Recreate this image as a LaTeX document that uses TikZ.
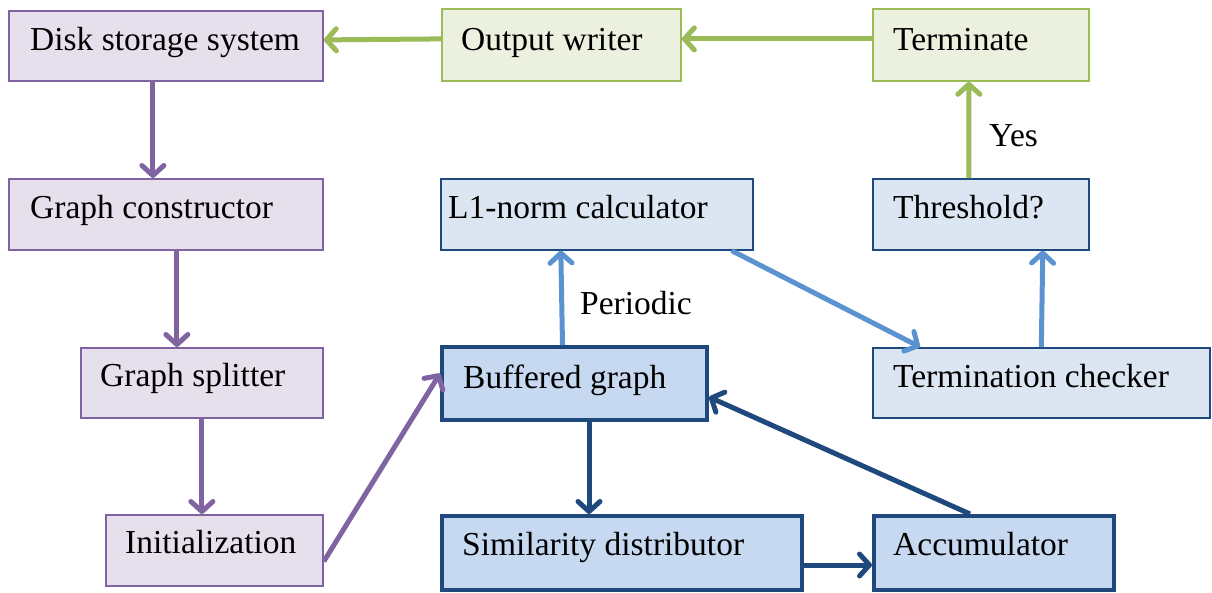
\documentclass[tikz,border=0pt]{standalone}
\usepackage{fontspec}
\setmainfont{Liberation Serif}
\usetikzlibrary{arrows.meta,calc}
\definecolor{pfill}{HTML}{E6E0EC}
\definecolor{pline}{HTML}{8064A2}
\definecolor{gfill}{HTML}{EBF1DE}
\definecolor{gline}{HTML}{9BBB59}
\definecolor{lbfill}{HTML}{DCE6F2}
\definecolor{dbline}{HTML}{1F497D}
\definecolor{bfill}{HTML}{C6D9F1}
\definecolor{lbarr}{HTML}{5B93D1}
\tikzset{
  boxbase/.style={draw, rectangle, anchor=north west, inner sep=0pt},
  pbox/.style={boxbase, fill=pfill, draw=pline, line width=1.8pt},
  gbox/.style={boxbase, fill=gfill, draw=gline, line width=1.8pt},
  lbbox/.style={boxbase, fill=lbfill, draw=dbline, line width=1.6pt},
  dbbox/.style={boxbase, fill=bfill, draw=dbline, line width=4pt},
  txt/.style={anchor=base west, inner sep=0pt, font=\fontsize{33.5}{40}\selectfont},
  arr/.style={line width=5pt, -{Straight Barb[length=10pt,width=22pt,round]}},
  parr/.style={arr, draw=pline},
  garr/.style={arr, draw=gline},
  larr/.style={arr, draw=lbarr},
  darr/.style={arr, draw=dbline},
}
\begin{document}
\begin{tikzpicture}[x=1pt,y=-1pt]
\fill[white] (0,0) rectangle (1212,592);
\useasboundingbox (0,0) rectangle (1212,592);
% boxes
\node[pbox, minimum width=314, minimum height=70] (disk) at (8,10) {};
\node[gbox, minimum width=239, minimum height=72] (out) at (441,8) {};
\node[gbox, minimum width=216, minimum height=72] (term) at (872,8) {};
\node[pbox, minimum width=314, minimum height=71] (cons) at (8,178) {};
\node[lbbox, minimum width=312, minimum height=71] (l1) at (440,178) {};
\node[lbbox, minimum width=216, minimum height=71] (thr) at (872,178) {};
\node[pbox, minimum width=242, minimum height=70] (split) at (80,347) {};
\node[dbbox, minimum width=265, minimum height=73] (buf) at (440,345) {};
\node[lbbox, minimum width=337, minimum height=70] (chk) at (872,347) {};
\node[pbox, minimum width=217, minimum height=71] (init) at (105,514) {};
\node[dbbox, minimum width=360, minimum height=74] (sim) at (440,514) {};
\node[dbbox, minimum width=240, minimum height=74] (acc) at (872,514) {};
% texts
\node[txt] (tdisk) at ($(disk.north west)+(22,40)$) {Disk storage system};
\node[txt] (tout) at ($(out.north west)+(20,42)$) {Output writer};
\node[txt] (tterm) at ($(term.north west)+(21,42)$) {Terminate};
\node[txt] (tcons) at ($(cons.north west)+(22,40)$) {Graph constructor};
\node[txt] (tl1) at ($(l1.north west)+(8,40)$) {L1-norm calculator};
\node[txt] (tthr) at ($(thr.north west)+(21,40)$) {Threshold?};
\node[txt] (tsplit) at ($(split.north west)+(20,39)$) {Graph splitter};
\node[txt] (tbuf) at ($(buf.north west)+(23,43)$) {Buffered graph};
\node[txt] (tchk) at ($(chk.north west)+(21,40)$) {Termination checker};
\node[txt] (tinit) at ($(init.north west)+(20,39)$) {Initialization};
\node[txt] (tsim) at ($(sim.north west)+(22,41)$) {Similarity distributor};
\node[txt] (tacc) at ($(acc.north west)+(21,41)$) {Accumulator};
% arrows
\draw[garr] ([yshift=6]out.west) -- ([yshift=6]disk.east);
\draw[garr] ([yshift=6]term.west) -- ([yshift=6]out.east);
\draw[garr] ([xshift=-12]thr.north) -- ([xshift=-12]term.south);
\node[txt] (yes) at (989,146) {Yes};
\draw[parr] ([xshift=-13]disk.south) -- ([xshift=-13]cons.north);
\draw[parr] ([xshift=11]cons.south) -- ([xshift=-25]split.north);
\draw[parr] (split.south) -- ([xshift=-12.5]init.north);
\draw[parr] ([yshift=-11]init.east) -- ([yshift=10]buf.west);
\draw[larr] ([xshift=-12]buf.north) -- ([xshift=-36]l1.south);
\node[txt] (per) at (580,314) {Periodic};
\draw[larr] ([xshift=-22]l1.south east) -- ([xshift=48]chk.north west);
\draw[larr] (chk.north) -- ([xshift=62]thr.south);
\draw[darr] ([xshift=14.5]buf.south) -- ([xshift=-33]sim.north);
\draw[darr] ([yshift=-12]sim.east) -- ([yshift=-12]acc.west);
\draw[darr] ([xshift=-24]acc.north) -- ([yshift=-13.5]buf.east);
\end{tikzpicture}
\end{document}
